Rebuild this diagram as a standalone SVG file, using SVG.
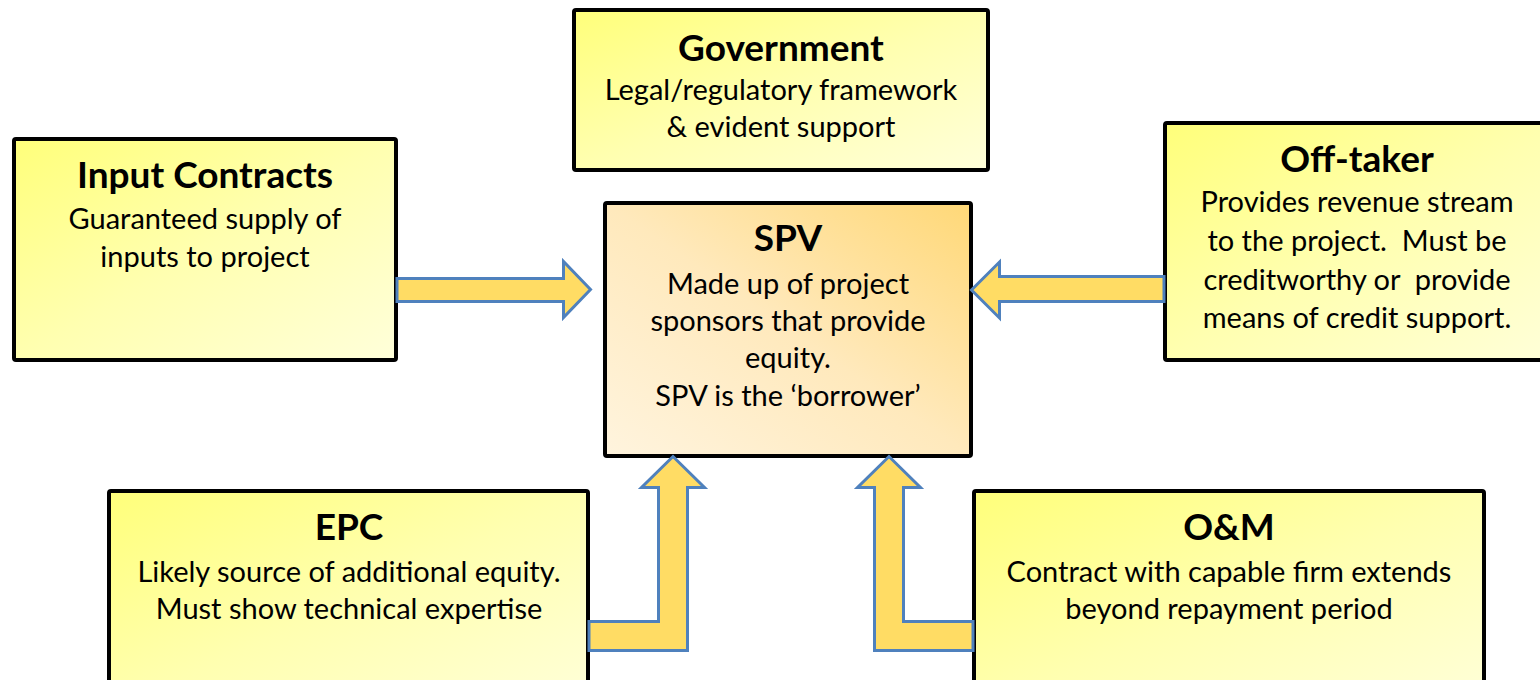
<svg xmlns="http://www.w3.org/2000/svg" width="1540" height="680" viewBox="0 0 1540 680">
<defs>
<linearGradient id="yel" x1="0" y1="0" x2="1" y2="1">
<stop offset="0" stop-color="#FFFF7A"/>
<stop offset="0.5" stop-color="#FFFFB0"/>
<stop offset="1" stop-color="#FFFFDA"/>
</linearGradient>
<linearGradient id="spv" x1="0" y1="1" x2="1" y2="0">
<stop offset="0" stop-color="#FFF4DE"/>
<stop offset="0.5" stop-color="#FFE9BC"/>
<stop offset="1" stop-color="#FFD877"/>
</linearGradient>
<style>
.box{stroke:#000;stroke-width:4;}
.y{fill:url(#yel);}
.s{fill:url(#spv);}
.t{font-family:Lato,"Open Sans","Liberation Sans",sans-serif;font-weight:bold;font-size:37px;fill:#000;text-anchor:middle;}
.b{font-family:Lato,"Open Sans","Liberation Sans",sans-serif;font-size:29px;fill:#000;text-anchor:middle;white-space:pre;}
.arr{fill:#FFDC64;stroke:#4F81BD;stroke-width:3;stroke-linejoin:miter;}
</style>
</defs>
<rect width="1540" height="680" fill="#fff"/>
<g id="government">
<rect class="box y" x="574" y="10" width="414" height="160" rx="2"/>
<text class="t" x="781" y="61">Government</text>
<text class="b" x="781" y="100">Legal/regulatory framework</text>
<text class="b" x="781" y="137">&amp; evident support</text>
</g>
<g id="input-contracts">
<rect class="box y" x="14" y="139" width="382" height="221" rx="2"/>
<text class="t" x="205" y="188">Input Contracts</text>
<text class="b" x="205" y="229">Guaranteed supply of</text>
<text class="b" x="205" y="267">inputs to project</text>
</g>
<g id="off-taker">
<rect class="box y" x="1165" y="123" width="400" height="237" rx="2"/>
<text class="t" x="1357" y="172">Off-taker</text>
<text class="b" x="1357" y="212">Provides revenue stream</text>
<text class="b" x="1357" y="251" xml:space="preserve">to the project.  Must be</text>
<text class="b" x="1357" y="290" xml:space="preserve">creditworthy or  provide</text>
<text class="b" x="1357" y="328">means of credit support.</text>
</g>
<g id="spv-node">
<rect class="box s" x="605" y="203" width="366" height="253" rx="2"/>
<text class="t" x="788" y="251">SPV</text>
<text class="b" x="788" y="294">Made up of project</text>
<text class="b" x="788" y="331">sponsors that provide</text>
<text class="b" x="788" y="368">equity.</text>
<text class="b" x="788" y="406">SPV is the ‘borrower’</text>
</g>
<g id="epc">
<rect class="box y" x="109" y="491" width="479" height="220" rx="2"/>
<text class="t" x="349" y="540">EPC</text>
<text class="b" x="349" y="582">Likely source of additional equity.</text>
<text class="b" x="349" y="619">Must show technical expertise</text>
</g>
<g id="om">
<rect class="box y" x="974" y="491" width="510" height="220" rx="2"/>
<text class="t" x="1229" y="540">O&amp;M</text>
<text class="b" x="1229" y="582">Contract with capable firm extends</text>
<text class="b" x="1229" y="619">beyond repayment period</text>
</g>
<g id="connectors">
<path class="arr" d="M397,278.5 L563.5,278.5 L563.5,261.5 L590.5,289.5 L563.5,317.5 L563.5,301.5 L397,301.5 Z"/>
<path class="arr" d="M1164,276.5 L999.5,276.5 L999.5,262 L971.5,290 L999.5,318 L999.5,301.5 L1164,301.5 Z"/>
<path class="arr" d="M589,621.5 L658.5,621.5 L658.5,487.5 L641.5,487.5 L673,456.5 L704.5,487.5 L687.5,487.5 L687.5,650.5 L589,650.5 Z"/>
<path class="arr" d="M973,621.5 L903.5,621.5 L903.5,487.5 L920.5,487.5 L889,456.5 L857.5,487.5 L874.5,487.5 L874.5,650.5 L973,650.5 Z"/>
</g>
</svg>
